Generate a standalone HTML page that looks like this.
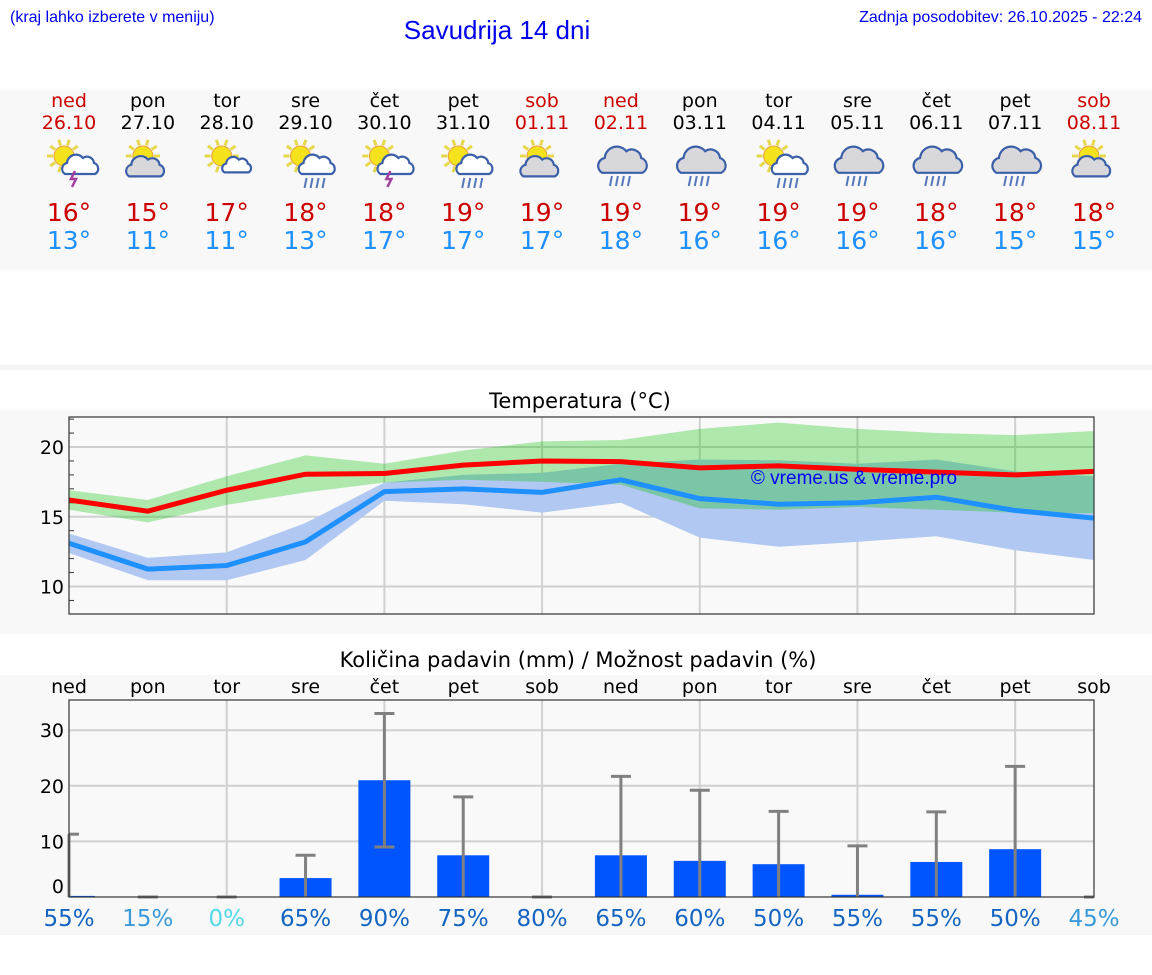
<!DOCTYPE html>
<html><head><meta charset="utf-8"><style>
html,body{margin:0;padding:0;background:#fff;width:1152px;height:975px;overflow:hidden}
svg{display:block}
</style></head><body>
<svg id="s" width="1152" height="975" xmlns="http://www.w3.org/2000/svg">
<rect x="0" y="90" width="1152" height="180" fill="#f8f8f8"/>
<rect x="0" y="365" width="1152" height="5" fill="#f4f4f4"/>
<rect x="0" y="410" width="1152" height="224" fill="#f8f8f8"/>
<rect x="0" y="675" width="1152" height="260" fill="#f8f8f8"/>
<text x="10" y="22" font-family="Liberation Sans, sans-serif" font-size="16" fill="#0000ee">(kraj lahko izberete v meniju)</text>
<text x="497" y="39" text-anchor="middle" font-family="Liberation Sans, sans-serif" font-size="26" fill="#0000ee">Savudrija 14 dni</text>
<text x="1142" y="22" text-anchor="end" font-family="Liberation Sans, sans-serif" font-size="16" fill="#0000ee">Zadnja posodobitev: 26.10.2025 - 22:24</text>
<text x="580" y="408" text-anchor="middle" font-family="DejaVu Sans, sans-serif" font-size="21" fill="#000">Temperatura (°C)</text>
<text x="578" y="667" text-anchor="middle" font-family="DejaVu Sans, sans-serif" font-size="21" fill="#000">Količina padavin (mm) / Možnost padavin (%)</text>
<g id="hdr"></g>
<g id="tc"></g>
<g id="pc"></g>
</svg>
<script>
const days=['ned','pon','tor','sre','čet','pet','sob','ned','pon','tor','sre','čet','pet','sob'];
const dates=['26.10','27.10','28.10','29.10','30.10','31.10','01.11','02.11','03.11','04.11','05.11','06.11','07.11','08.11'];
const icons=['sun-storm','sun-cloud','sun-smallcloud','sun-rain','sun-storm','sun-rain','sun-cloud','rain','rain','sun-rain','rain','rain','rain','sun-cloud'];
const hiT=[16,15,17,18,18,19,19,19,19,19,19,18,18,18];
const loT=[13,11,11,13,17,17,17,18,16,16,16,16,15,15];
const maxLine=[16.2,15.4,16.9,18.05,18.1,18.7,19.0,18.95,18.5,18.65,18.4,18.2,18.0,18.25];
const maxHigh=[16.9,16.2,17.9,19.4,18.8,19.75,20.4,20.5,21.3,21.75,21.3,21.0,20.85,21.15];
const maxLow=[15.5,14.6,15.85,16.75,17.45,17.65,17.5,17.3,15.6,15.5,15.7,15.5,15.3,15.25];
const minLine=[13.1,11.25,11.5,13.2,16.8,17.0,16.75,17.65,16.3,15.9,16.0,16.4,15.45,14.9];
const minHigh=[13.8,12.05,12.45,14.55,17.45,18.0,18.15,18.8,19.1,19.05,18.8,19.1,18.25,17.9];
const minLow=[12.4,10.45,10.45,11.9,16.15,15.9,15.3,16.0,13.5,12.85,13.2,13.6,12.6,11.9];
const tempTicks=[10,15,20];
const rain=[0.2,0,0,3.4,21,7.5,0,7.5,6.5,5.9,0.4,6.3,8.6,0];
const rainHi=[11.3,0,0,7.5,33,18,0,21.7,19.2,15.4,9.2,15.3,23.5,0];
const rainLo=[0,0,0,0,9,0,0,0,0,0,0,0,0,0];
const chance=[55,15,0,65,90,75,80,65,60,50,55,55,50,45];
const rainTicks=[0,10,20,30];
const NS='http://www.w3.org/2000/svg';
function mk(p,t,a){const e=document.createElementNS(NS,t);for(const k in a)e.setAttribute(k,a[k]);p.appendChild(e);return e;}
const X0=69,X1=1094;
const xd=i=>X0+(X1-X0)*i/13;
const ty=v=>447+(20-v)*13.95;
const ry=v=>897-v*5.56;
const hdr=document.getElementById('hdr');
function sun(g,cx,cy){
  for(let k=0;k<10;k++){const a=k*Math.PI/5;mk(g,'line',{x1:cx+Math.cos(a)*11,y1:cy+Math.sin(a)*11,x2:cx+Math.cos(a)*17,y2:cy+Math.sin(a)*17,stroke:'#e6d84a','stroke-width':3});}
  mk(g,'circle',{cx:cx,cy:cy,r:10,fill:'#f4e21c',stroke:'#e8a040','stroke-width':1});
}
function cloud(g,cx,cy,s,fill){
  const d=`M${cx-14*s},${cy+8*s} a${6*s},${6*s} 0 0 1 ${2*s},${-11*s} a${9*s},${9*s} 0 0 1 ${16*s},${-5*s} a${7*s},${7*s} 0 0 1 ${11*s},${5*s} a${6*s},${6*s} 0 0 1 ${1*s},${11*s} Z`;
  mk(g,'path',{d:d,fill:fill,stroke:'#3a5fa8','stroke-width':2.2});
}
function rainDrops(g,cx,cy){for(let k=0;k<4;k++)mk(g,'line',{x1:cx-9+k*6,y1:cy,x2:cx-11+k*6,y2:cy+10,stroke:'#5577bb','stroke-width':2});}
for(let i=0;i<14;i++){
  const x=xd(i);
  const red=(days[i]==='ned'||days[i]==='sob');
  let t=mk(hdr,'text',{x:x,y:107,'text-anchor':'middle','font-family':'DejaVu Sans, sans-serif','font-size':19,fill:red?'#cc0000':'#000'});
  
  
  t.textContent=days[i];
  t=mk(hdr,'text',{x:x,y:129,'text-anchor':'middle','font-family':'DejaVu Sans, sans-serif','font-size':19,fill:red?'#cc0000':'#000'});
  
  
  t.textContent=dates[i];
  const g=mk(hdr,'g',{});
  
  
  const ic=icons[i];
  if(ic==='rain'){cloud(g,x,162,1.35,'#d8d8dc');rainDrops(g,x,176);}
  else{
    sun(g,x-5,156);
    if(ic==='sun-cloud')cloud(g,x-4,168,1.05,'#d8d8dc');
    else if(ic==='sun-smallcloud')cloud(g,x+9,166,0.8,'#fff');
    else{cloud(g,x+10,166,1.0,'#fff');
      if(ic==='sun-storm')mk(g,'path',{d:`M${x+6},${171} l-4,8 h5 l-4,8`,stroke:'#a040a0','stroke-width':2.5,fill:'none'});
      else rainDrops(g,x+10,178);}
  }
  t=mk(hdr,'text',{x:x,y:221,'text-anchor':'middle','font-family':'DejaVu Sans, sans-serif','font-size':25,fill:'#cc0000'});
  
  
  t.textContent=hiT[i]+'°';
  t=mk(hdr,'text',{x:x,y:249,'text-anchor':'middle','font-family':'DejaVu Sans, sans-serif','font-size':25,fill:'#1e90ff'});
  
  
  t.textContent=loT[i]+'°';
}
// temperature chart
const tc=document.getElementById('tc');
let r=mk(tc,'rect',{x:X0,y:417,width:X1-X0,height:197,fill:'#f9f9f9'});


for(let v=9;v<=22;v++){let l=mk(tc,'line',{x1:X0,x2:X0+5,y1:ty(v),y2:ty(v),stroke:'#333','stroke-width':1});}
tempTicks.forEach(v=>{
  let l=mk(tc,'line',{x1:X0,x2:X1,y1:ty(v),y2:ty(v),stroke:'#d0d0d0','stroke-width':2});
  
  let t=mk(tc,'text',{x:X0-5,y:ty(v)+7,'text-anchor':'end','font-family':'DejaVu Sans, sans-serif','font-size':19,fill:'#000'});
  t.textContent=v;
});
for(let i=2;i<14;i+=2){let l=mk(tc,'line',{x1:xd(i),x2:xd(i),y1:417,y2:614,stroke:'#d0d0d0','stroke-width':2});}
function band(hi,lo,col,op,name){
  let d='M'+hi.map((v,i)=>xd(i)+','+ty(v)).join(' L')+' L'+lo.map((v,i)=>xd(i)+','+ty(v)).reverse().join(' L')+'Z';
  const p=mk(tc,'path',{d:d,fill:col,'fill-opacity':op});
  
}
band(minHigh,minLow,'#b0c8f2',1,'min-temp-range');
band(maxHigh,maxLow,'#0fc50c',0.32,'max-temp-range');
function line(vals,col,name){
  const p=mk(tc,'polyline',{points:vals.map((v,i)=>xd(i)+','+ty(v)).join(' '),fill:'none',stroke:col,'stroke-width':5});
  
}
line(maxLine,'#ff0000','max-temp-line');
line(minLine,'#1e90ff','min-temp-line');
let wm=mk(tc,'text',{x:854,y:484,'text-anchor':'middle','font-family':'Liberation Sans, sans-serif','font-size':19,fill:'#0000ff'});
wm.textContent='© vreme.us & vreme.pro';
r=mk(tc,'rect',{x:X0,y:417,width:X1-X0,height:197,fill:'none',stroke:'#333','stroke-width':1.2});

// precipitation chart
const pc=document.getElementById('pc');
r=mk(pc,'rect',{x:X0,y:700,width:X1-X0,height:197,fill:'#f9f9f9'});

rainTicks.forEach(v=>{
  if(v>0){let l=mk(pc,'line',{x1:X0,x2:X1,y1:ry(v),y2:ry(v),stroke:'#d0d0d0','stroke-width':2});}
  let t=mk(pc,'text',{x:X0-5,y:(v===0?ry(v)-4:ry(v)+7),'text-anchor':'end','font-family':'DejaVu Sans, sans-serif','font-size':19,fill:'#000'});
  t.textContent=v;
});
for(let i=2;i<14;i+=2){let l=mk(pc,'line',{x1:xd(i),x2:xd(i),y1:700,y2:897,stroke:'#d0d0d0','stroke-width':2});}
const pcol=p=>p===0?'#55d8e8':(p<50?'#3a9ad9':'#1565c0');
for(let i=0;i<14;i++){
  const x=xd(i);
  let t=mk(pc,'text',{x:x,y:693,'text-anchor':'middle','font-family':'DejaVu Sans, sans-serif','font-size':19,fill:'#000'});
  t.textContent=days[i];
  const x0=Math.max(X0,x-26),x1=Math.min(X1,x+26);
  if(rain[i]>0){let b=mk(pc,'rect',{x:x0,y:ry(rain[i]),width:x1-x0,height:897-ry(rain[i]),fill:'#0055ff'});}
  const c0=Math.max(X0,x-10),c1=Math.min(X1,x+10);
  let e=mk(pc,'line',{x1:x,x2:x,y1:ry(rainLo[i]),y2:ry(rainHi[i]),stroke:'#808080','stroke-width':3});
  
  e=mk(pc,'line',{x1:c0,x2:c1,y1:ry(rainHi[i]),y2:ry(rainHi[i]),stroke:'#808080','stroke-width':3});
  
  if(rainLo[i]>0){e=mk(pc,'line',{x1:c0,x2:c1,y1:ry(rainLo[i]),y2:ry(rainLo[i]),stroke:'#808080','stroke-width':3});}
  t=mk(pc,'text',{x:x,y:926,'text-anchor':'middle','font-family':'DejaVu Sans, sans-serif','font-size':23,fill:pcol(chance[i])});
  t.textContent=chance[i]+'%';
}
r=mk(pc,'rect',{x:X0,y:700,width:X1-X0,height:197,fill:'none',stroke:'#333','stroke-width':1.2});

</script>
</body></html>
